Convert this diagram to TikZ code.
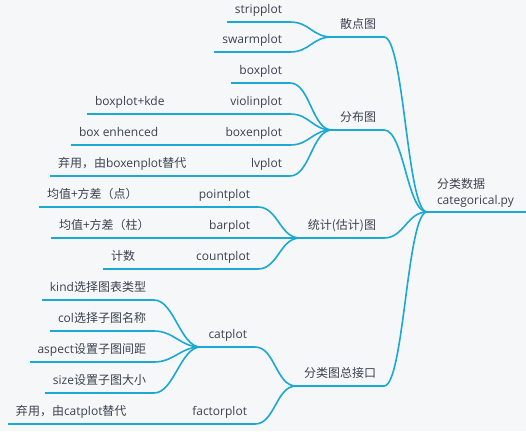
\documentclass[tikz,border=0pt]{standalone}
\usepackage{fontspec}
\setmainfont{Open Sans}
\newfontfamily\zh{Noto Sans CJK SC}
\usetikzlibrary{positioning}

\definecolor{bgc}{HTML}{F6F7F9}
\definecolor{branch}{HTML}{1BA9D2}
\definecolor{ink}{HTML}{3B4150}

\tikzset{
  topic/.style={inner xsep=8pt, inner ysep=6pt, outer sep=0pt,
    text height=9pt, text depth=3pt, text=ink,
    font=\fontsize{12}{16}\selectfont},
  rt/.style={topic, anchor=south east},
  lt/.style={topic, anchor=south west},
  roottopic/.style={inner xsep=10pt, inner ysep=5pt, outer sep=0pt, text=ink,
    font=\fontsize{12}{16}\selectfont, text width=89pt, align=left, anchor=south west},
  branchline/.style={draw=branch, line width=1.6pt}
}

\begin{document}
\begin{tikzpicture}[x=1pt, y=-1pt]
  % Background and page size
  \fill[bgc] (0,0) rectangle (526,431);
  \useasboundingbox (0,0) rectangle (526,431);

  % Root
  \node[roottopic] (root) at (427,212) {{\zh 分类数据}\\categorical.py};

  % First level
  \node[rt] (sct)  at (384,37)  {\zh 散点图};
  \node[rt] (dist) at (384,130) {\zh 分布图};
  \node[rt] (stat) at (384,238) {\zh 统计(估计)图};
  \node[rt] (cati) at (384,386) {\zh 分类图总接口};

  % Second level
  \node[rt] (strip)  at (290,22)  {stripplot};
  \node[rt] (swarm)  at (290,52)  {swarmplot};
  \node[rt] (box)    at (290,83)  {boxplot};
  \node[rt] (violin) at (290,114) {violinplot};
  \node[rt] (boxen)  at (290,145) {boxenplot};
  \node[rt] (lv)     at (290,176) {lvplot};
  \node[rt] (point)  at (258,207) {pointplot};
  \node[rt] (bar)    at (258,238) {barplot};
  \node[rt] (count)  at (258,269) {countplot};
  \node[rt] (cat)    at (255,347) {catplot};
  \node[rt] (factor) at (255,424) {factorplot};

  % Third level
  \node[lt] (kde)    at (87,114)  {boxplot+kde};
  \node[lt] (enh)    at (71,145)  {box enhenced};
  \node[lt] (lvdep)  at (50,176)  {{\zh 弃用，由}boxenplot{\zh 替代}};
  \node[lt] (ptx)    at (39,207)  {\zh 均值+方差（点）};
  \node[lt] (barx)   at (51,238)  {\zh 均值+方差（柱）};
  \node[lt] (cnt)    at (103,269) {\zh 计数};
  \node[rt] (kind)   at (154,300) {kind{\zh 选择图表类型}};
  \node[rt] (col)    at (154,331) {col{\zh 选择子图名称}};
  \node[rt] (asp)    at (154,362) {aspect{\zh 设置子图间距}};
  \node[rt] (size)   at (154,393) {size{\zh 设置子图大小}};
  \node[lt] (facdep) at (8,424)   {{\zh 弃用，由}catplot{\zh 替代}};

  % Underlines
  \foreach \n in {root,sct,dist,stat,cati,strip,swarm,box,violin,boxen,lv,
      point,bar,count,cat,factor,kde,enh,lvdep,ptx,barx,cnt,kind,col,asp,size,facdep}
    \draw[branchline] (\n.south west) -- (\n.south east);

  % Branches
  \foreach \src/\dst in {root/sct,root/dist,root/stat,root/cati,
      sct/strip,sct/swarm,dist/box,dist/violin,dist/boxen,dist/lv,
      stat/point,stat/bar,stat/count,cati/cat,cati/factor,
      violin/kde,boxen/enh,lv/lvdep,point/ptx,bar/barx,count/cnt,
      cat/kind,cat/col,cat/asp,cat/size,factor/facdep}
    \draw[branchline] (\src.south west) .. controls +(-20,0) and +(20,0) .. (\dst.south east);
\end{tikzpicture}
\end{document}
